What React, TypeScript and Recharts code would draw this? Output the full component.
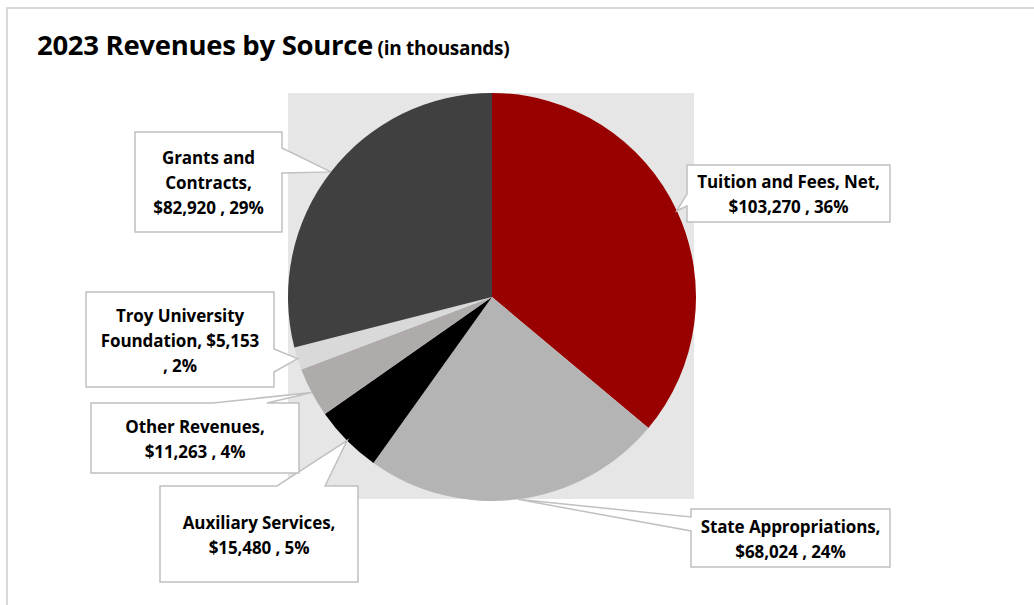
import React from "react";
import { Cell, Pie, PieChart } from "recharts";

const categories = [
  "Tuition and Fees, Net",
  "State Appropriations",
  "Auxiliary Services",
  "Other Revenues",
  "Troy University Foundation",
  "Grants and Contracts",
];
const revenues = [103270, 68024, 15480, 11263, 5153, 82920];
const colors = ["#990000", "#b4b4b4", "#000000", "#afabab", "#d9d9d9", "#404040"];

const data = categories.map((name, i) => ({ name, value: revenues[i] }));

// callout boxes: where each box sits, which side the pointer leaves from, and how the text wraps
type Callout = {
  x: number;
  y: number;
  w: number;
  h: number;
  side: "left" | "right" | "top";
  base: [number, number];
  words: number[];
};
const callouts: Callout[] = [
  { x: 687, y: 165, w: 203, h: 57, side: "left", base: [194, 206], words: [4, 3] },
  { x: 691, y: 509, w: 199, h: 58, side: "left", base: [517, 531], words: [2, 3] },
  { x: 160, y: 486, w: 198, h: 96, side: "top", base: [277, 325], words: [2, 3] },
  { x: 91, y: 403, w: 208, h: 70, side: "top", base: [213, 267], words: [2, 3] },
  { x: 86, y: 292, w: 188, h: 95, side: "right", base: [349, 372], words: [2, 2, 2] },
  { x: 135, y: 132, w: 147, h: 100, side: "right", base: [148, 173], words: [2, 1, 3] },
];

const RADIAN = Math.PI / 180;
const FONT = "'Open Sans', Lato, sans-serif";

function calloutPath(c: Callout, tx: number, ty: number) {
  const { x, y, w, h, side, base } = c;
  let d = `M${x},${y}`;
  if (side === "top") d += ` L${base[0]},${y} L${tx},${ty} L${base[1]},${y}`;
  d += ` L${x + w},${y}`;
  if (side === "right") d += ` L${x + w},${base[0]} L${tx},${ty} L${x + w},${base[1]}`;
  d += ` L${x + w},${y + h} L${x},${y + h}`;
  if (side === "left") d += ` L${x},${base[1]} L${tx},${ty} L${x},${base[0]}`;
  return d + " Z";
}

function renderLabel(props: any) {
  const { cx, cy, midAngle, outerRadius, index, percent, value, name } = props;
  const c = callouts[index];
  const tx = cx + outerRadius * Math.cos(-midAngle * RADIAN);
  const ty = cy + outerRadius * Math.sin(-midAngle * RADIAN);
  const text = `${name}, $${Number(value).toLocaleString("en-US")} , ${Math.round(percent * 100)}%`;
  const tokens = text.split(" ");
  const lines: string[] = [];
  let k = 0;
  c.words.forEach((n) => {
    lines.push(tokens.slice(k, k + n).join(" "));
    k += n;
  });
  const lh = 25;
  const midY = c.y + c.h / 2 + 1;
  const firstY = midY - ((lines.length - 1) * lh) / 2;
  return (
    <g key={`callout-${index}`}>
      <path d={calloutPath(c, tx, ty)} fill="#ffffff" stroke="#c0c0c0" strokeWidth={1.5} />
      <text
        x={c.x + c.w / 2}
        textAnchor="middle"
        fontFamily={FONT}
        fontWeight={700}
        fontSize={17}
        letterSpacing={-0.1}
        fill="#000000"
      >
        {lines.map((ln, i) => (
          <tspan key={i} x={c.x + c.w / 2} y={firstY + i * lh} dy="0.36em">
            {ln}
          </tspan>
        ))}
      </text>
    </g>
  );
}

export default function App() {
  return (
    <div style={{ position: "absolute", left: 0, top: 0, width: 1034, height: 605, background: "#ffffff", overflow: "hidden" }}>
      <div
        style={{
          position: "absolute",
          left: 6,
          top: 7,
          width: 1060,
          height: 640,
          border: "2px solid #d9d9d9",
          boxSizing: "border-box",
        }}
      />
      <div style={{ position: "absolute", left: 288, top: 93, width: 406, height: 406, background: "#e6e6e6" }} />
      <div
        style={{
          position: "absolute",
          left: 37,
          top: 26,
          fontFamily: FONT,
          fontWeight: 700,
          color: "#000000",
          whiteSpace: "nowrap",
          letterSpacing: -0.3,
        }}
      >
        <span style={{ fontSize: 27.5 }}>2023 Revenues by Source</span>
        <span style={{ fontSize: 19 }}> (in thousands)</span>
      </div>
      <div style={{ position: "absolute", left: 0, top: 0 }}>
        <PieChart width={1034} height={605} margin={{ top: 0, right: 0, bottom: 0, left: 0 }}>
          <Pie
            data={data}
            dataKey="value"
            nameKey="name"
            cx={492}
            cy={297}
            outerRadius={204}
            startAngle={90}
            endAngle={-270}
            stroke="none"
            label={renderLabel}
            labelLine={false}
            isAnimationActive={false}
          >
            {data.map((d, i) => (
              <Cell key={d.name} fill={colors[i]} />
            ))}
          </Pie>
        </PieChart>
      </div>
    </div>
  );
}
